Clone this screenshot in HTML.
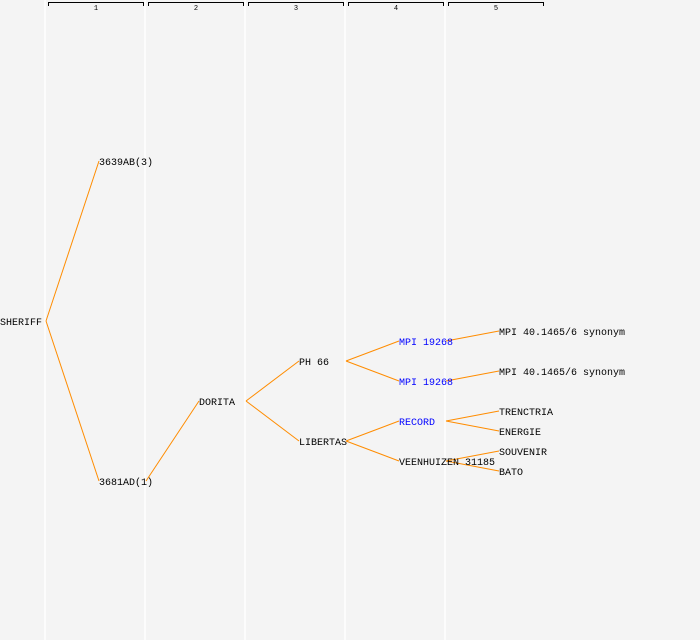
<!DOCTYPE html>
<html><head><meta charset="utf-8"><style>
html,body{margin:0;padding:0;background:#f4f4f4;}
svg{display:block;font-family:"Liberation Mono","DejaVu Sans Mono",monospace;}
</style></head><body>
<svg id="chart" width="700" height="640" viewBox="0 0 700 640">
<rect width="700" height="640" fill="#f4f4f4"/>
<g id="grid"></g><g id="edges"></g><g id="labels"></g>
</svg>
<script>
const generations=["1","2","3","4","5"];
const nodeNames=["SHERIFF","3639AB(3)","3681AD(1)","DORITA","PH 66","LIBERTAS","MPI 19268","MPI 19268","RECORD","VEENHUIZEN 31185","MPI 40.1465/6 synonym","MPI 40.1465/6 synonym","TRENCTRIA","ENERGIE","SOUVENIR","BATO"];
const nodeLevel=[0,1,1,2,3,3,4,4,4,4,5,5,5,5,5,5];
const nodeRow=[321,161,481,401,361,441,341,381,421,461,331,371,411,431,451,471];
const nodeBlue=[0,0,0,0,0,0,1,1,1,0,0,0,0,0,0,0];
const edgeParent=[0,0,2,3,3,4,4,5,5,6,7,8,8,9,9];
const edgeChild=[1,2,3,4,5,6,7,8,9,10,11,12,13,14,15];
const NS="http://www.w3.org/2000/svg";
function colX(l){return l*100-55;}
function nodeX(l){return l===0?0:colX(l)+54;}
const grid=document.getElementById('grid'),edges=document.getElementById('edges'),labels=document.getElementById('labels');
generations.forEach((g,i)=>{
  const x=colX(i+1);
  const ln=document.createElementNS(NS,'line');
  ln.setAttribute('x1',x);ln.setAttribute('x2',x);ln.setAttribute('y1',0);ln.setAttribute('y2',640);
  ln.setAttribute('stroke','#ffffff');ln.setAttribute('stroke-width','1.5');
  
  
  grid.appendChild(ln);
  const br=document.createElementNS(NS,'path');
  br.setAttribute('d',`M${x+3.5} 6V2.5H${x+98.5}V6`);
  br.setAttribute('fill','none');br.setAttribute('stroke','#000');br.setAttribute('stroke-width','1');
  
  
  grid.appendChild(br);
  const t=document.createElementNS(NS,'text');
  t.setAttribute('x',x+51);t.setAttribute('y',10);t.setAttribute('font-size','7');t.setAttribute('text-anchor','middle');
  t.textContent=g;
  
  
  grid.appendChild(t);
});
edgeParent.forEach((p,i)=>{
  const c=edgeChild[i];
  const ln=document.createElementNS(NS,'line');
  ln.setAttribute('x1',colX(nodeLevel[p]+1)+1);ln.setAttribute('y1',nodeRow[p]);
  ln.setAttribute('x2',nodeX(nodeLevel[c]));ln.setAttribute('y2',nodeRow[c]);
  ln.setAttribute('stroke','#ff8c00');ln.setAttribute('stroke-width','1');
  
  
  edges.appendChild(ln);
});
nodeNames.forEach((n,i)=>{
  const t=document.createElementNS(NS,'text');
  t.setAttribute('x',nodeX(nodeLevel[i]));t.setAttribute('y',nodeRow[i]+4);
  t.setAttribute('font-size','10');t.setAttribute('fill',nodeBlue[i]?'#0000ff':'#000');
  t.textContent=n;
  
  
  labels.appendChild(t);
});
</script>
</body></html>
